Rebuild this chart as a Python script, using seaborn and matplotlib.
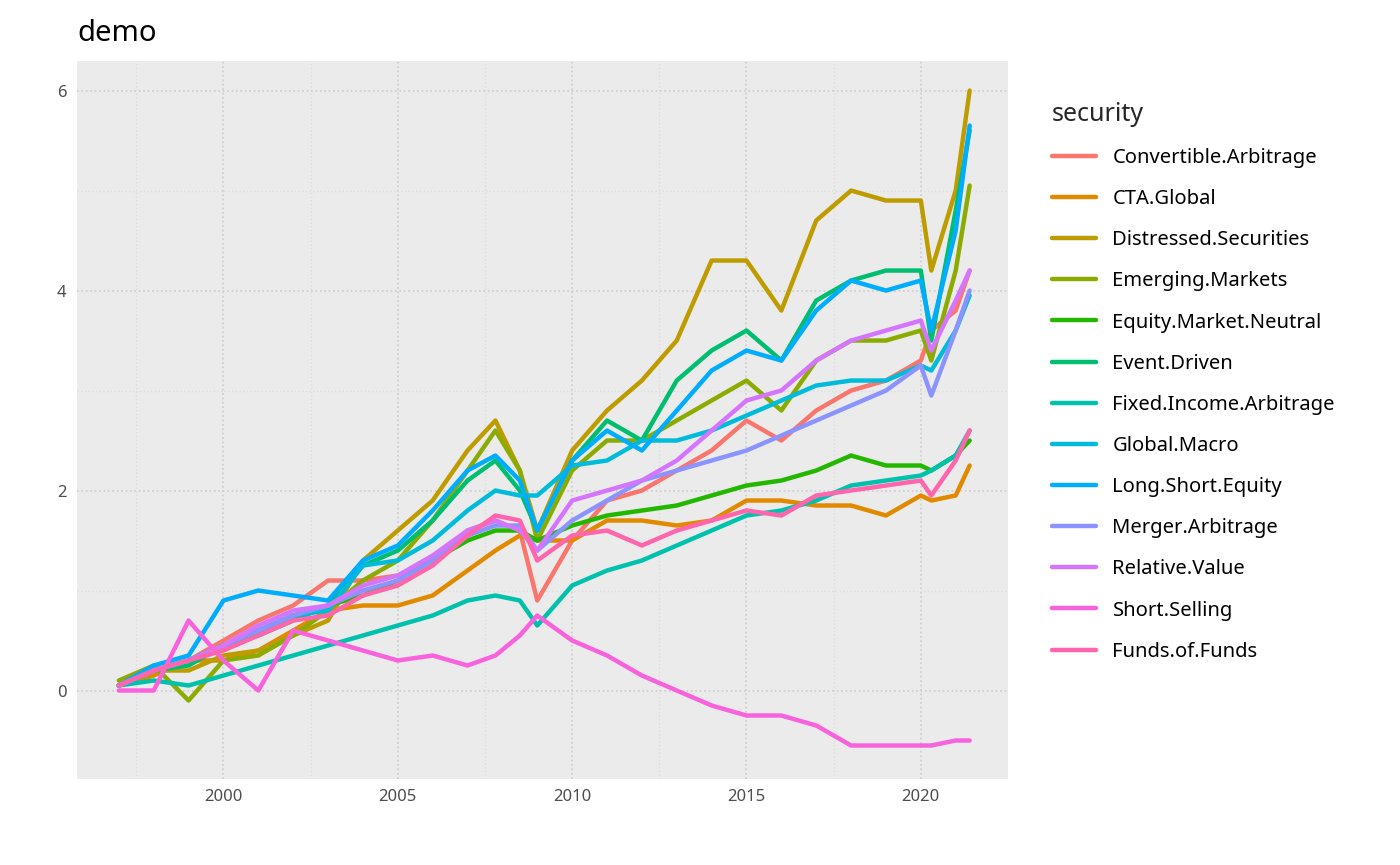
import numpy as np
import pandas as pd
import matplotlib
matplotlib.use("Agg")
import matplotlib.pyplot as plt
import seaborn as sns

years = [1997.0, 1998, 1999, 2000, 2001, 2002, 2003, 2004, 2005, 2006, 2007, 2007.8, 2008.5,
         2009, 2010, 2011, 2012, 2013, 2014, 2015, 2016, 2017, 2018, 2019, 2020, 2020.3, 2021, 2021.4]

convertible_arbitrage = [0.05, 0.2, 0.3, 0.5, 0.7, 0.85, 1.1, 1.1, 1.15, 1.3, 1.6, 1.7, 1.6, 0.9, 1.5, 1.9, 2.0, 2.2, 2.4, 2.7, 2.5, 2.8, 3.0, 3.1, 3.3, 3.6, 3.8, 4.2]
cta_global = [0.05, 0.15, 0.3, 0.3, 0.4, 0.6, 0.8, 0.85, 0.85, 0.95, 1.2, 1.4, 1.55, 1.5, 1.5, 1.7, 1.7, 1.65, 1.7, 1.9, 1.9, 1.85, 1.85, 1.75, 1.95, 1.9, 1.95, 2.25]
distressed_securities = [0.05, 0.2, 0.2, 0.35, 0.4, 0.55, 0.7, 1.3, 1.6, 1.9, 2.4, 2.7, 2.2, 1.6, 2.4, 2.8, 3.1, 3.5, 4.3, 4.3, 3.8, 4.7, 5.0, 4.9, 4.9, 4.2, 5.0, 6.0]
emerging_markets = [0.1, 0.25, -0.1, 0.3, 0.35, 0.55, 0.8, 1.1, 1.3, 1.7, 2.2, 2.6, 2.2, 1.5, 2.2, 2.5, 2.5, 2.7, 2.9, 3.1, 2.8, 3.3, 3.5, 3.5, 3.6, 3.3, 4.2, 5.05]
equity_market_neutral = [0.05, 0.2, 0.3, 0.45, 0.6, 0.75, 0.85, 0.95, 1.1, 1.3, 1.5, 1.6, 1.6, 1.5, 1.65, 1.75, 1.8, 1.85, 1.95, 2.05, 2.1, 2.2, 2.35, 2.25, 2.25, 2.2, 2.35, 2.5]
event_driven = [0.05, 0.2, 0.25, 0.45, 0.55, 0.7, 0.85, 1.25, 1.4, 1.7, 2.1, 2.3, 2.0, 1.6, 2.3, 2.7, 2.5, 3.1, 3.4, 3.6, 3.3, 3.9, 4.1, 4.2, 4.2, 3.5, 4.8, 5.6]
fixed_income_arbitrage = [0.05, 0.1, 0.05, 0.15, 0.25, 0.35, 0.45, 0.55, 0.65, 0.75, 0.9, 0.95, 0.9, 0.65, 1.05, 1.2, 1.3, 1.45, 1.6, 1.75, 1.8, 1.9, 2.05, 2.1, 2.15, 2.2, 2.35, 2.6]
global_macro = [0.05, 0.2, 0.3, 0.45, 0.6, 0.75, 0.8, 1.25, 1.3, 1.5, 1.8, 2.0, 1.95, 1.95, 2.25, 2.3, 2.5, 2.5, 2.6, 2.75, 2.9, 3.05, 3.1, 3.1, 3.25, 3.2, 3.6, 3.95]
long_short_equity = [0.05, 0.25, 0.35, 0.9, 1.0, 0.95, 0.9, 1.3, 1.45, 1.8, 2.2, 2.35, 2.1, 1.6, 2.3, 2.6, 2.4, 2.8, 3.2, 3.4, 3.3, 3.8, 4.1, 4.0, 4.1, 3.6, 4.6, 5.65]
merger_arbitrage = [0.05, 0.2, 0.3, 0.45, 0.6, 0.75, 0.85, 1.0, 1.1, 1.3, 1.55, 1.65, 1.65, 1.4, 1.7, 1.9, 2.1, 2.2, 2.3, 2.4, 2.55, 2.7, 2.85, 3.0, 3.25, 2.95, 3.6, 4.0]
relative_value = [0.05, 0.2, 0.3, 0.45, 0.65, 0.8, 0.85, 1.05, 1.15, 1.35, 1.6, 1.7, 1.6, 1.4, 1.9, 2.0, 2.1, 2.3, 2.6, 2.9, 3.0, 3.3, 3.5, 3.6, 3.7, 3.4, 3.9, 4.2]
short_selling = [0.0, 0.0, 0.7, 0.3, 0.0, 0.6, 0.5, 0.4, 0.3, 0.35, 0.25, 0.35, 0.55, 0.75, 0.5, 0.35, 0.15, 0.0, -0.15, -0.25, -0.25, -0.35, -0.55, -0.55, -0.55, -0.55, -0.5, -0.5]
funds_of_funds = [0.05, 0.2, 0.3, 0.4, 0.55, 0.7, 0.75, 0.95, 1.05, 1.25, 1.55, 1.75, 1.7, 1.3, 1.55, 1.6, 1.45, 1.6, 1.7, 1.8, 1.75, 1.95, 2.0, 2.05, 2.1, 1.95, 2.3, 2.6]

securities = ["Convertible.Arbitrage", "CTA.Global", "Distressed.Securities", "Emerging.Markets",
              "Equity.Market.Neutral", "Event.Driven", "Fixed.Income.Arbitrage", "Global.Macro",
              "Long.Short.Equity", "Merger.Arbitrage", "Relative.Value", "Short.Selling", "Funds.of.Funds"]
series = [convertible_arbitrage, cta_global, distressed_securities, emerging_markets,
          equity_market_neutral, event_driven, fixed_income_arbitrage, global_macro,
          long_short_equity, merger_arbitrage, relative_value, short_selling, funds_of_funds]

palette = ["#F8766D", "#E18A00", "#BE9C00", "#8CAB00", "#24B700", "#00BE70", "#00C1AB",
           "#00BBDA", "#00ACFC", "#8B93FF", "#D575FE", "#F962DD", "#FF65AC"]

df = pd.concat([pd.DataFrame({"date": years, "value": v, "security": s})
                for s, v in zip(securities, series)])

sns.set_style("whitegrid")
plt.rcParams["font.family"] = ["Noto Sans", "DejaVu Sans"]

fig = plt.figure(figsize=(14, 8.65), dpi=100)
ax = fig.add_axes([0.055, 0.1, 0.665, 0.83])
ax.set_facecolor("#EBEBEB")
sns.lineplot(data=df, x="date", y="value", hue="security", hue_order=securities,
             palette=palette, linewidth=3.2, ax=ax)
ax.grid(True, color="#CCCCCC", linestyle=":", linewidth=1.2)
ax.set_xticks([2000, 2005, 2010, 2015, 2020])
ax.set_xticks([1997.5, 2002.5, 2007.5, 2012.5, 2017.5], minor=True)
ax.set_yticks([0, 2, 4, 6])
ax.set_yticks([-1, 1, 3, 5], minor=True)
ax.grid(True, which="minor", color="#DDDDDD", linestyle=":", linewidth=1.0)
ax.set_xlim(1995.8, 2022.5)
ax.set_ylim(-0.88, 6.3)
for sp in ax.spines.values():
    sp.set_visible(False)
ax.tick_params(labelsize=12, colors="#4D4D4D", length=4)
ax.set_xlabel("")
ax.set_ylabel("")
ax.set_title("demo", loc="left", fontsize=21, pad=14, color="black")
leg = ax.legend(title="security", loc="upper left", bbox_to_anchor=(1.03, 0.965),
                frameon=True, fontsize=14.5, title_fontsize=18, handlelength=2.2,
                labelspacing=1.05, alignment="left", borderpad=0.3)
leg.get_frame().set_facecolor("white")
leg.get_frame().set_edgecolor("white")
for t in leg.get_texts():
    t.set_color("black")
for h in leg.get_lines():
    h.set_linewidth(3.2)
fig.savefig("out.png", dpi=100)
